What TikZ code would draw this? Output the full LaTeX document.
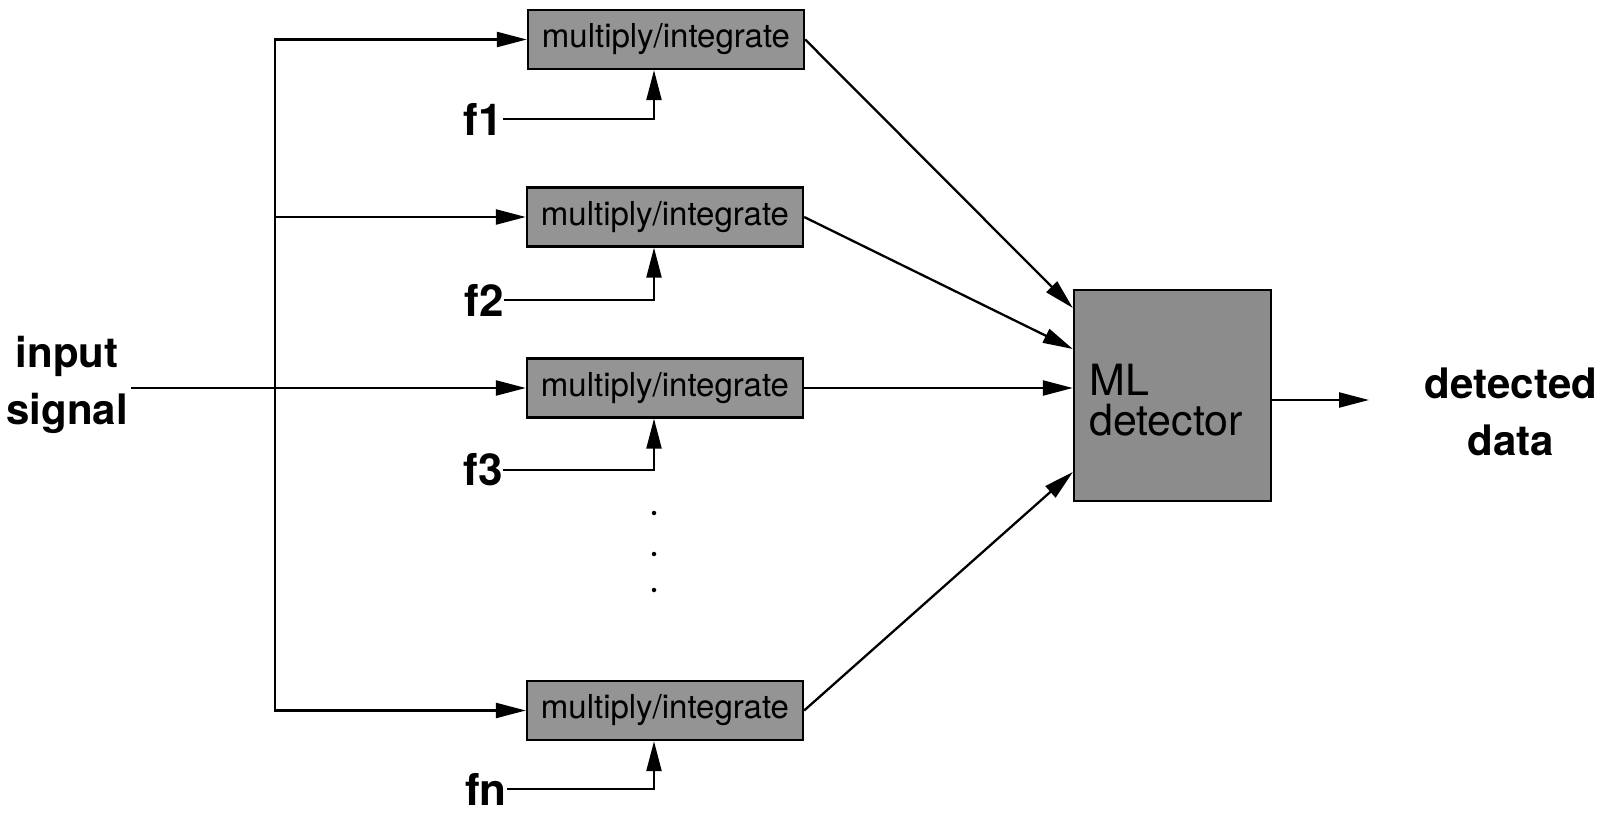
\documentclass[tikz,border=0pt]{standalone}
\usepackage{fontspec}
\setmainfont{TeX Gyre Heros}
\usetikzlibrary{arrows.meta}
\tikzset{
  wire/.style={line width=2.3pt},
  arr/.style={wire,-{Triangle[length=30pt,width=15pt]}},
  mibox/.style={draw,line width=2.3pt,fill=black!42,minimum width=276pt,minimum height=59pt,inner sep=0pt,font=\fontsize{33}{33}\selectfont},
  mlbox/.style={draw,line width=2.3pt,fill=black!45,minimum width=197pt,minimum height=211pt,inner sep=0pt},
  lbl/.style={font=\bfseries\fontsize{42}{57}\selectfont,inner sep=0pt,align=center},
  flbl/.style={font=\bfseries\fontsize{44}{44}\selectfont,inner sep=0pt},
  dotmark/.style={circle,fill=black,inner sep=0pt,minimum size=4.5pt}
}
\begin{document}
\begin{tikzpicture}[x=1pt,y=-1pt]
\useasboundingbox (0,0) rectangle (1610,813);
\node[mibox] (m1) at (666,39.5) {multiply/integrate};
\node[mibox] (m2) at (665,217) {multiply/integrate};
\node[mibox] (m3) at (665,388) {multiply/integrate};
\node[mibox] (mn) at (665,710.5) {multiply/integrate};
\node[mlbox] (ml) at (1172.5,395.5) {};
\node[anchor=west,inner sep=0pt,align=left,font=\fontsize{43}{40}\selectfont] (mltext) at (1089,400) {ML\\detector};
\node[lbl] (insig) at (67,385) {input\\signal};
\node[lbl] (det) at (1511,412) {detected\\data};
\coordinate (in) at (131,388);
\coordinate (j) at (275,388);
\coordinate (out) at (1369,400);
\draw[arr] (in) -- (m3.west);
\draw[arr] (j) |- (m1.west);
\draw[arr] (j) |- (m2.west);
\draw[arr] (j) |- (mn.west);
\node[flbl,anchor=east] (f1) at (503,119) {f1};
\node[flbl,anchor=east] (f2) at (504,300) {f2};
\node[flbl,anchor=east] (f3) at (503,470) {f3};
\node[flbl,anchor=east] (fn) at (507,789) {fn};
\draw[arr] (f1.east) -| (654,0 |- m1.south);
\draw[arr] (f2.east) -| (654,0 |- m2.south);
\draw[arr] (f3.east) -| (654,0 |- m3.south);
\draw[arr] (fn.east) -| (654,0 |- mn.south);
\node[dotmark] (d1) at (654,513) {};
\node[dotmark] (d2) at (654,554) {};
\node[dotmark] (d3) at (654,590) {};
\draw[arr] (m1.east) -- (ml.west |- 0,308);
\draw[arr] (m2.east) -- (ml.west |- 0,349);
\draw[arr] (m3.east) -- (ml.west |- 0,388);
\draw[arr] (mn.east) -- (ml.west |- 0,472);
\draw[arr] (ml.east |- out) -- (out);
\end{tikzpicture}
\end{document}
